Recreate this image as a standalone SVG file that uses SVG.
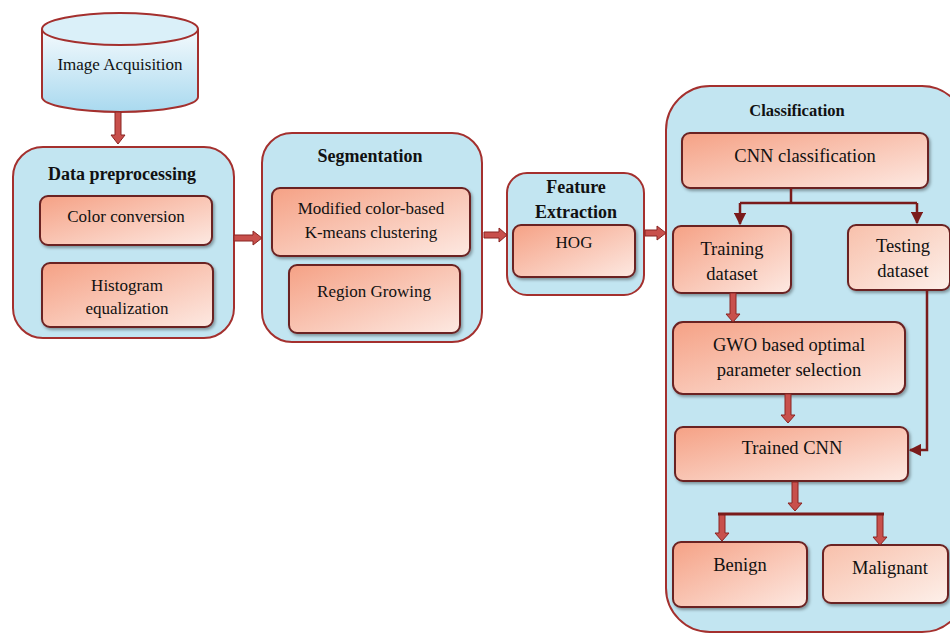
<svg xmlns="http://www.w3.org/2000/svg" width="950" height="634" viewBox="0 0 950 634">
<defs>
<linearGradient id="inner" x1="0" y1="0" x2="1" y2="1">
<stop offset="0" stop-color="#f5a185"/>
<stop offset="1" stop-color="#fde9e2"/>
</linearGradient>
<linearGradient id="inner2" x1="0" y1="0" x2="1" y2="1">
<stop offset="0" stop-color="#f8c0ab"/>
<stop offset="1" stop-color="#fdf0ea"/>
</linearGradient>
<linearGradient id="cyl" x1="0" y1="0" x2="0" y2="1">
<stop offset="0" stop-color="#f4fafd"/>
<stop offset="1" stop-color="#a9d9ef"/>
</linearGradient>
<filter id="sh" x="-10%" y="-10%" width="125%" height="130%">
<feDropShadow dx="1.5" dy="2" stdDeviation="1.5" flood-color="#000" flood-opacity="0.35"/>
</filter>
<marker id="ah" viewBox="0 0 10 10" refX="9" refY="5" markerWidth="5" markerHeight="5" orient="auto" markerUnits="strokeWidth">
<path d="M0,0 L10,5 L0,10 z" fill="#7a1b1b"/>
</marker>
</defs>
<style>
.outer{fill:#c2e5f1;stroke:#a4302e;stroke-width:2}
.inbox{fill:url(#inner);stroke:#6b2222;stroke-width:2;filter:url(#sh)}
.inbox2{fill:url(#inner2);stroke:#6b2222;stroke-width:2;filter:url(#sh)}
.t{font-family:"Liberation Serif","Times New Roman",serif;fill:#111;text-anchor:middle}
.ti{font-size:17px}
.tb{font-size:18px;font-weight:bold}
.tc{font-size:18.5px}
.barrow{fill:#c8504c;stroke:#8a2422;stroke-width:1}
.line{fill:none;stroke:#7a1b1b;stroke-width:2.5}
</style>
<rect width="950" height="634" fill="#fff"/>

<g id="image-acquisition">
<path d="M42,29 L42,97 A78,15 0 0 0 198,97 L198,29" fill="url(#cyl)" stroke="#a4302e" stroke-width="2"/>
<ellipse cx="120" cy="29" rx="78" ry="16" fill="#daf0f9" stroke="#a4302e" stroke-width="2"/>
<text class="t ti" x="120" y="70">Image Acquisition</text>
</g>

<g id="data-preprocessing">
<rect class="outer" x="13" y="147" width="221" height="191" rx="30"/>
<text class="t tb" x="122" y="180">Data preprocessing</text>
<g id="color-conversion">
<rect class="inbox" x="40" y="196" width="172" height="49" rx="8"/>
<text class="t ti" x="126" y="222">Color conversion</text>
</g>
<g id="histogram-equalization">
<rect class="inbox" x="42" y="263" width="171" height="64" rx="8"/>
<text class="t ti" x="127" y="291">Histogram</text>
<text class="t ti" x="127" y="314">equalization</text>
</g>
</g>

<g id="segmentation">
<rect class="outer" x="262" y="133" width="220" height="209" rx="30"/>
<text class="t tb" x="370" y="162">Segmentation</text>
<g id="kmeans">
<rect class="inbox" x="272" y="188" width="198" height="68" rx="8"/>
<text class="t ti" x="371" y="214">Modified color-based</text>
<text class="t ti" x="371" y="238">K-means clustering</text>
</g>
<g id="region-growing">
<rect class="inbox" x="289" y="265" width="171" height="68" rx="8"/>
<text class="t ti" x="374" y="297">Region Growing</text>
</g>
</g>

<g id="feature-extraction">
<rect class="outer" x="507" y="173" width="137" height="122" rx="20"/>
<text class="t tb" x="576" y="193">Feature</text>
<text class="t tb" x="576" y="218">Extraction</text>
<g id="hog">
<rect class="inbox" x="513" y="225" width="122" height="52" rx="8"/>
<text class="t ti" x="574" y="248">HOG</text>
</g>
</g>

<g id="classification">
<rect class="outer" x="666" y="86" width="300" height="546" rx="44"/>
<text class="t tb" x="797" y="116" style="font-size:16.5px">Classification</text>
<g id="cnn-classification">
<rect class="inbox" x="682" y="133" width="246" height="55" rx="8"/>
<text class="t tc" x="805" y="162">CNN classification</text>
</g>
<g id="training-dataset">
<rect class="inbox" x="673" y="226" width="118" height="67" rx="8"/>
<text class="t tc" x="732" y="255">Training</text>
<text class="t tc" x="732" y="280">dataset</text>
</g>
<g id="testing-dataset">
<rect class="inbox2" x="848" y="225" width="102" height="65" rx="8"/>
<text class="t tc" x="903" y="252">Testing</text>
<text class="t tc" x="903" y="277">dataset</text>
</g>
<g id="gwo">
<rect class="inbox" x="673" y="322" width="232" height="72" rx="10"/>
<text class="t tc" x="789" y="351">GWO based optimal</text>
<text class="t tc" x="789" y="376">parameter selection</text>
</g>
<g id="trained-cnn">
<rect class="inbox" x="675" y="427" width="233" height="54" rx="8"/>
<text class="t tc" x="792" y="454">Trained CNN</text>
</g>
<g id="benign">
<rect class="inbox" x="673" y="542" width="134" height="65" rx="8"/>
<text class="t tc" x="740" y="571">Benign</text>
</g>
<g id="malignant">
<rect class="inbox2" x="823" y="545" width="125" height="58" rx="8"/>
<text class="t tc" x="890" y="574">Malignant</text>
</g>
</g>

<g id="connectors">
<polygon class="barrow" points="115,112 121,112 121,135 125,135 118,144 111,135 115,135"/>
<polygon class="barrow" points="234,235 253,235 253,231 262,238 253,245 253,241 234,241"/>
<polygon class="barrow" points="484,232 499,232 499,228 507,235 499,242 499,238 484,238"/>
<polygon class="barrow" points="645,230 657,230 657,226 666,233 657,240 657,236 645,236"/>
<polygon class="barrow" points="730,293 736,293 736,314 740,314 733,322 726,314 730,314"/>
<polygon class="barrow" points="785,394 791,394 791,415 795,415 788,423 781,415 785,415"/>
<polygon class="barrow" points="792,482 798,482 798,503 802,503 795,511 788,503 792,503"/>
<polygon class="barrow" points="719,514 725,514 725,533 729,533 722,541 715,533 719,533"/>
<polygon class="barrow" points="877,514 883,514 883,537 887,537 880,545 873,537 877,537"/>
<line x1="718" y1="514" x2="884" y2="514" stroke="#7a1b1b" stroke-width="3"/>
<path class="line" d="M791,188 L791,203"/>
<path class="line" d="M740,203 L917,203"/>
<path class="line" d="M740,203 L740,224" marker-end="url(#ah)"/>
<path class="line" d="M917,203 L917,223" marker-end="url(#ah)"/>
<path class="line" d="M927,290 L927,450 L910,450" marker-end="url(#ah)"/>
</g>
</svg>
